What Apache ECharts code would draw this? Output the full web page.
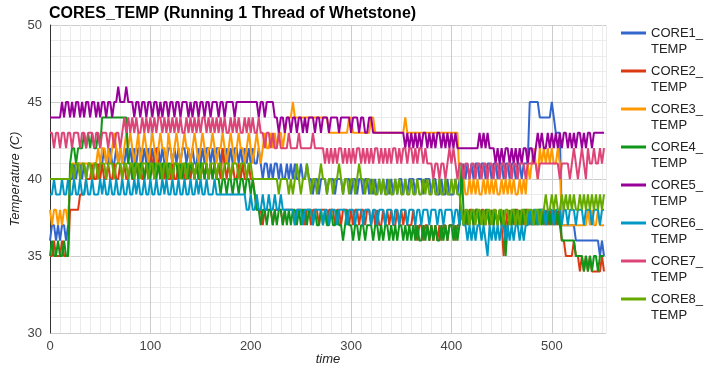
<!DOCTYPE html>
<html>
<head>
<meta charset="utf-8">
<script src="https://cdn.jsdelivr.net/npm/echarts@6/dist/echarts.min.js"></script>
<style>html,body{margin:0;padding:0;background:#fff}#c{width:722px;height:371px}</style>
</head>
<body>
<div id="c"></div>
<script>
const TITLE = 'CORES_TEMP (Running 1 Thread of Whetstone)';
const seriesNames = ['CORE1_TEMP','CORE2_TEMP','CORE3_TEMP','CORE4_TEMP','CORE5_TEMP','CORE6_TEMP','CORE7_TEMP','CORE8_TEMP'];
const colors = ['#3366cc','#dc3912','#ff9900','#109618','#990099','#0099c6','#dd4477','#66aa00'];
const xTicks = [0,100,200,300,400,500];
const yTicks = [30,35,40,45,50];

const times = [0,2,4,6,8,10,12,14,16,18,
20,22,24,26,28,30,32,34,36,38,
40,42,44,46,48,50,52,54,56,58,
60,62,64,66,68,70,72,74,76,78,
80,82,84,86,88,90,92,94,96,98,
100,102,104,106,108,110,112,114,116,118,
120,122,124,126,128,130,132,134,136,138,
140,142,144,146,148,150,152,154,156,158,
160,162,164,166,168,170,172,174,176,178,
180,182,184,186,188,190,192,194,196,198,
200,202,204,206,208,210,212,214,216,218,
220,222,224,226,228,230,232,234,236,238,
240,242,244,246,248,250,252,254,256,258,
260,262,264,266,268,270,272,274,276,278,
280,282,284,286,288,290,292,294,296,298,
300,302,304,306,308,310,312,314,316,318,
320,322,324,326,328,330,332,334,336,338,
340,342,344,346,348,350,352,354,356,358,
360,362,364,366,368,370,372,374,376,378,
380,382,384,386,388,390,392,394,396,398,
400,402,404,406,408,410,412,414,416,418,
420,422,424,426,428,430,432,434,436,438,
440,442,444,446,448,450,452,454,456,458,
460,462,464,466,468,470,472,474,476,478,
480,482,484,486,488,490,492,494,496,498,
500,502,504,506,508,510,512,514,516,518,
520,522,524,526,528,530,532,534,536,538,
540,542,544,546,548,550,552];

const core1 = [36,37,37,36,37,36,37,37,36,37,
40,40,41,40,41,41,40,41,40,41,
41,40,41,41,40,41,41,42,41,41,
42,41,41,42,41,42,41,41,42,41,
42,41,42,41,42,42,41,42,41,42,
41,42,41,42,42,41,42,41,41,42,
42,41,42,41,42,41,42,42,41,42,
41,42,41,41,42,41,42,41,42,42,
41,42,41,42,42,41,42,41,42,41,
42,41,42,42,41,42,41,42,41,42,
41,42,41,41,42,41,40,41,41,40,
41,40,41,41,40,41,40,40,41,40,
41,40,41,40,40,41,40,40,41,40,
40,39,40,40,39,40,40,40,39,40,
40,40,39,40,40,40,39,40,40,40,
39,40,40,39,40,40,39,40,40,39,
40,39,40,39,40,39,40,39,40,39,
40,39,40,39,40,40,39,40,39,40,
40,40,39,40,40,40,39,40,40,40,
39,40,40,39,39,40,39,39,40,39,
39,39,40,39,40,40,41,40,41,40,
41,40,41,41,40,41,41,40,41,41,
40,41,41,40,41,41,40,41,41,40,
41,41,40,41,41,40,41,41,41,45,
45,45,45,45,44,44,44,44,44,44,
45,44,43,43,43,37,37,37,37,37,
37,37,36,36,36,36,36,36,36,36,
36,36,36,36,35,36,35];

const core2 = [35,35,36,35,35,35,36,35,35,35,
38,38,38,38,38,39,39,39,40,40,
40,41,40,40,41,40,41,40,40,41,
40,40,41,40,40,41,40,41,40,40,
41,40,40,41,40,41,40,40,41,40,
42,41,40,42,41,40,41,40,41,40,
40,41,40,40,41,40,41,40,40,41,
40,41,40,41,40,40,41,40,41,40,
41,40,41,40,41,40,42,41,40,41,
40,41,40,40,41,40,41,40,40,41,
40,40,39,38,38,38,37,38,38,38,
38,37,38,38,38,38,37,38,38,38,
38,38,37,38,38,38,38,37,38,38,
37,38,38,38,37,38,38,38,37,38,
38,38,37,38,38,37,38,38,38,37,
38,37,38,38,37,38,38,37,38,38,
37,38,37,38,37,37,38,37,38,37,
38,37,37,38,37,38,37,38,37,37,
37,38,37,36,37,37,36,37,37,36,
37,36,37,36,37,36,37,37,36,37,
37,37,36,37,37,38,37,38,37,38,
38,37,38,38,37,38,38,37,38,37,
38,37,38,37,38,37,35,37,38,37,
38,37,38,38,37,38,37,38,38,37,
38,37,38,37,38,38,37,38,37,38,
37,38,37,38,37,36,36,35,35,35,
35,36,35,35,34,35,34,35,34,35,
34,34,34,34,34,35,34];

const core3 = [38,37,38,38,37,38,37,38,38,37,
40,41,41,41,41,41,41,41,41,41,
41,41,41,41,42,41,42,42,41,42,
41,42,43,42,41,42,41,42,43,42,
43,42,41,42,43,41,42,43,42,41,
42,43,42,41,42,43,42,42,41,43,
42,41,42,43,42,41,42,43,42,42,
41,42,43,42,41,42,43,42,41,42,
42,43,42,41,42,42,43,42,41,42,
43,42,41,42,43,42,42,41,42,43,
42,41,42,43,42,41,42,43,42,42,
43,42,43,42,43,43,42,43,44,44,
44,45,44,44,44,44,44,44,44,44,
44,44,44,44,44,44,44,44,44,43,
43,43,43,43,43,43,43,43,43,44,
44,43,43,43,43,43,43,43,43,43,
44,44,43,43,43,43,43,43,43,43,
43,43,43,43,43,43,43,44,43,43,
43,43,43,43,43,43,43,43,43,43,
43,43,43,43,43,43,43,43,43,43,
43,43,43,43,40,39,40,39,39,40,
39,40,39,40,39,39,40,39,40,39,
40,39,40,39,39,40,39,40,39,40,
39,40,39,39,40,39,40,39,41,40,
41,42,41,40,42,41,42,41,42,41,
42,41,41,42,41,37,37,37,37,37,
37,37,37,37,37,37,37,37,38,37,
38,37,37,38,37,37,37];

const core4 = [35,36,35,35,36,35,35,36,35,35,
41,42,42,41,42,42,42,43,42,43,
42,43,42,42,43,42,44,44,44,44,
44,44,44,44,44,44,44,44,44,41,
41,40,41,41,40,41,41,40,41,41,
40,41,41,40,41,40,41,41,40,41,
41,40,41,41,40,41,40,41,41,40,
41,41,40,41,40,41,41,40,41,40,
41,40,41,40,40,39,40,40,39,40,
40,39,40,40,39,40,40,39,40,40,
39,40,39,38,38,37,38,38,37,38,
38,37,38,37,38,38,37,38,37,38,
37,38,38,37,38,37,38,38,37,38,
38,37,38,37,37,38,37,38,37,37,
38,37,37,38,37,37,36,37,38,37,
37,36,37,37,36,37,37,36,37,37,
37,36,37,37,36,37,36,37,37,36,
37,36,37,36,37,37,36,37,36,37,
36,37,36,37,36,36,37,36,37,36,
37,36,37,36,36,37,36,37,36,37,
37,36,37,36,37,41,38,37,38,37,
38,37,38,38,37,38,37,38,38,37,
38,37,38,37,38,37,38,35,37,38,
37,38,38,37,38,37,38,38,37,38,
37,38,37,38,38,37,38,37,38,37,
38,37,38,37,38,36,36,36,36,36,
36,36,35,35,35,35,34,35,34,35,
34,35,35,34,35,35,35];

const core5 = [44,44,44,44,44,44,45,44,45,45,
44,45,44,45,45,44,45,44,45,45,
44,45,45,44,45,44,45,45,44,45,
45,44,45,45,46,45,45,45,46,45,
45,45,44,45,45,44,45,45,44,45,
45,44,45,45,44,45,44,45,45,44,
45,45,44,45,45,44,45,45,45,44,
45,44,45,45,44,45,45,44,45,45,
44,45,45,45,44,45,45,44,45,45,
45,45,44,45,45,45,45,45,45,45,
45,45,45,45,44,45,45,44,45,45,
45,45,44,44,43,44,44,43,44,44,
43,44,44,43,44,44,43,44,43,44,
44,44,43,44,44,43,44,44,44,43,
44,44,44,44,43,44,44,44,44,44,
43,44,44,44,43,44,44,43,43,44,
44,43,43,43,43,43,43,43,43,43,
43,43,43,43,43,43,43,42,43,42,
43,42,43,42,43,42,43,43,42,43,
42,43,42,43,43,42,43,42,43,42,
43,42,43,42,42,42,42,42,42,42,
42,42,42,42,43,42,43,42,43,42,
42,42,41,42,41,42,41,42,42,41,
42,41,42,41,42,41,42,42,41,42,
42,41,42,43,42,43,42,42,43,42,
43,42,43,42,43,42,43,43,42,43,
42,43,42,43,43,42,43,42,43,43,
42,43,43,43,43,43,43];

const core6 = [39,39,40,39,39,39,40,39,39,40,
39,39,40,39,39,40,39,39,40,39,
39,40,39,39,39,40,39,40,39,39,
40,39,39,40,39,39,40,39,39,40,
39,39,40,39,40,39,39,40,39,39,
40,39,39,40,39,39,40,39,40,39,
39,40,39,39,40,39,39,40,39,39,
40,39,39,40,39,40,39,39,40,39,
39,39,40,39,39,39,39,39,39,39,
39,39,39,39,39,39,39,39,38,38,
39,38,38,39,38,38,39,38,38,39,
38,38,39,38,38,39,38,38,38,38,
38,38,37,38,38,38,37,38,38,38,
38,37,38,38,38,38,37,38,38,37,
38,38,38,37,38,38,38,38,37,38,
38,38,37,38,38,38,37,38,38,38,
37,38,38,37,38,38,38,37,38,38,
38,37,38,38,37,38,38,38,37,38,
38,38,37,38,38,37,38,38,38,37,
38,38,38,37,38,38,37,38,38,38,
38,37,38,38,37,38,37,37,36,37,
36,37,36,37,37,36,37,36,35,37,
36,37,36,37,36,37,37,36,37,36,
37,36,37,37,36,37,36,37,37,38,
37,38,38,37,38,38,38,37,38,38,
38,37,38,38,38,37,38,38,37,38,
38,38,37,38,38,38,37,38,38,38,
37,38,38,38,37,38,38];

const core7 = [43,43,42,43,43,42,43,43,42,43,
43,42,43,43,43,42,43,43,42,43,
43,43,42,43,43,42,43,43,43,42,
43,43,42,43,43,42,43,44,43,44,
43,44,43,44,43,43,44,43,44,43,
44,43,44,43,44,44,43,44,43,44,
43,44,43,44,43,44,43,43,44,43,
44,43,44,43,44,43,44,44,43,44,
43,44,43,44,43,44,43,44,43,43,
44,43,44,43,44,43,43,44,43,44,
43,44,43,43,44,43,43,42,43,43,
42,43,42,42,43,42,42,42,42,43,
42,42,42,42,43,42,42,42,42,42,
42,43,42,42,42,42,42,41,42,41,
42,41,42,41,42,42,41,42,41,42,
41,42,41,42,42,41,42,41,42,41,
42,41,42,42,41,42,41,42,41,42,
41,42,42,41,42,41,42,42,41,42,
42,41,42,41,42,42,41,42,41,41,
41,40,41,41,40,41,41,40,41,42,
41,42,41,40,41,41,40,41,41,40,
41,41,40,41,41,40,41,41,40,41,
41,40,41,41,40,41,41,40,41,41,
40,41,41,40,41,41,41,40,41,41,
41,41,41,40,41,41,41,41,41,41,
41,41,41,41,40,41,41,41,41,40,
41,42,41,40,41,42,41,40,42,41,
41,42,41,41,42,41,42];

const core8 = [40,40,40,40,40,40,40,40,40,40,
40,41,40,41,41,40,41,41,40,41,
41,40,41,41,40,41,41,41,40,41,
41,41,40,41,41,41,40,41,41,40,
41,41,40,41,41,40,41,41,41,40,
41,41,40,41,41,41,40,41,41,40,
41,40,41,41,41,40,41,41,40,41,
41,41,40,41,41,40,41,41,41,40,
41,41,41,40,41,41,40,41,41,41,
40,41,41,41,40,41,41,41,40,41,
41,40,40,40,40,40,40,40,40,40,
40,40,40,40,39,40,40,40,40,39,
40,39,40,41,40,39,40,40,41,40,
39,40,40,39,40,41,40,40,39,40,
40,39,40,40,41,40,39,40,40,39,
40,40,39,40,41,40,40,39,40,40,
39,40,39,39,40,39,40,39,39,40,
39,39,40,39,40,39,39,40,39,39,
40,39,39,40,39,39,40,39,40,39,
39,40,39,39,40,39,39,40,39,39,
40,39,40,39,39,38,37,38,38,37,
38,38,37,38,38,37,38,37,38,38,
37,38,38,37,38,38,37,38,38,37,
38,38,37,38,37,38,38,37,38,38,
38,37,38,38,37,38,38,39,38,38,
39,38,39,38,38,39,38,39,38,39,
38,39,38,38,39,38,39,38,39,38,
39,38,39,38,39,38,39];

const values = [core1, core2, core3, core4, core5, core6, core7, core8];
const FONT = 'Arial, "Liberation Sans", sans-serif';

const chart = echarts.init(document.getElementById('c'), null, {renderer: 'canvas'});
const xMinor = ['#cccccc','#ebebeb','#ebebeb','#ebebeb','#ebebeb','#ebebeb','#ebebeb','#ebebeb','#ebebeb','#ebebeb'];
const yMinor = ['#cccccc','#ebebeb','#ebebeb','#ebebeb','#ebebeb'];

chart.setOption({
  animation: false,
  color: colors,
  title: {
    text: TITLE, left: 49, top: 6, padding: 0,
    textStyle: {fontFamily: FONT, fontSize: 16, fontWeight: 'bold', color: '#000'}
  },
  legend: {
    orient: 'vertical', left: 621, top: 9, padding: 0,
    itemWidth: 25, itemHeight: 3, itemGap: -10, icon: 'rect',
    itemStyle: {borderWidth: 0},
    formatter: function (n) { return ' \n' + n.replace('_', '_\n'); },
    textStyle: {fontFamily: FONT, fontSize: 13, color: '#222', lineHeight: 16},
    data: seriesNames
  },
  grid: {left: 50, top: 25, right: 116, bottom: 38, outerBoundsMode: 'none', containLabel: false},
  xAxis: {
    type: 'value', min: 0, max: 554, interval: 10,
    name: 'time', nameLocation: 'middle', nameGap: 20, nameMoveOverlap: false,
    nameTextStyle: {fontFamily: FONT, fontSize: 13, fontStyle: 'italic', color: '#222'},
    axisLine: {show: false}, axisTick: {show: false},
    axisLabel: {
      fontFamily: FONT, fontSize: 13, color: '#444', margin: 7, showMaxLabel: false,
      formatter: function (v) { return xTicks.indexOf(v) >= 0 ? String(v) : ''; }
    },
    splitLine: {show: true, lineStyle: {color: xMinor, width: 1}}
  },
  yAxis: {
    type: 'value', min: 30, max: 50, interval: 1,
    name: 'Temperature (C)', nameLocation: 'middle', nameGap: 28, nameMoveOverlap: false,
    nameTextStyle: {fontFamily: FONT, fontSize: 13, fontStyle: 'italic', color: '#222'},
    axisLine: {show: true, lineStyle: {color: '#333', width: 1}}, axisTick: {show: false},
    axisLabel: {
      fontFamily: FONT, fontSize: 13, color: '#444', margin: 8,
      formatter: function (v) { return yTicks.indexOf(v) >= 0 ? String(v) : ''; }
    },
    splitLine: {show: true, lineStyle: {color: yMinor, width: 1}}
  },
  series: values.map(function (vals, k) {
    return {
      name: seriesNames[k], type: 'line', symbol: 'none', showSymbol: false,
      lineStyle: {width: 2}, emphasis: {disabled: true},
      data: times.map(function (t, i) { return [t, vals[i]]; })
    };
  })
});
</script>
</body>
</html>
